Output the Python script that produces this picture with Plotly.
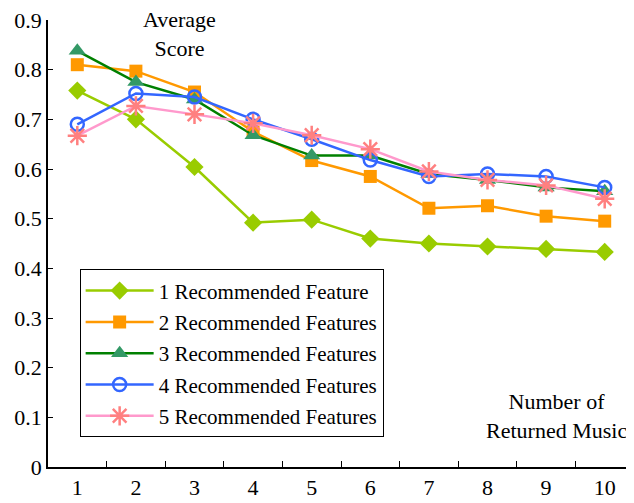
import plotly.graph_objects as go

x_labels = ["1", "2", "3", "4", "5", "6", "7", "8", "9", "10"]
s1 = [0.758, 0.700, 0.604, 0.492, 0.498, 0.460, 0.450, 0.444, 0.439, 0.433]
s2 = [0.810, 0.797, 0.755, 0.675, 0.617, 0.585, 0.521, 0.526, 0.505, 0.495]
s3 = [0.838, 0.775, 0.740, 0.668, 0.627, 0.627, 0.590, 0.578, 0.563, 0.555]
s4 = [0.690, 0.752, 0.745, 0.700, 0.660, 0.618, 0.585, 0.590, 0.585, 0.563]
s5 = [0.667, 0.727, 0.710, 0.692, 0.668, 0.640, 0.595, 0.578, 0.567, 0.540]
names = ["1 Recommended Feature", "2 Recommended Features", "3 Recommended Features",
         "4 Recommended Features", "5 Recommended Features"]
y_ticks = [0, 0.1, 0.2, 0.3, 0.4, 0.5, 0.6, 0.7, 0.8, 0.9]
y_tick_text = ["0", "0.1", "0.2", "0.3", "0.4", "0.5", "0.6", "0.7", "0.8", "0.9"]

FONT = "Liberation Serif"

styles = [
    dict(line=dict(color="#99CC00", width=2.5), marker=dict(symbol="diamond", size=14, color="#99CC00")),
    dict(line=dict(color="#FF9900", width=2.5), marker=dict(symbol="square", size=13, color="#FF9900")),
    dict(line=dict(color="#008000", width=2.5), marker=dict(symbol="triangle-up", size=15, color="#339966")),
    dict(line=dict(color="#3366FF", width=2.5), marker=dict(symbol="circle-open", size=13, color="#3366FF",
                                                            line=dict(width=2.5, color="#3366FF"))),
    dict(line=dict(color="#FF99CC", width=2.5), marker=dict(symbol="asterisk-open", size=16, color="#FF8080",
                                                            line=dict(width=2.5, color="#FF8080"))),
]

fig = go.Figure()
for i, (ys, nm, st) in enumerate(zip([s1, s2, s3, s4, s5], names, styles)):
    fig.add_trace(go.Scatter(x=x_labels, y=ys, name=nm, mode="lines+markers",
                             legendgroup=str(i), **st))

fig.update_layout(
    width=626, height=495,
    margin=dict(l=40, r=0, t=8, b=36),
    paper_bgcolor="white", plot_bgcolor="white",
    font=dict(family=FONT, size=22, color="black"),
    showlegend=True,
    legend=dict(x=0.054, y=0.442, xanchor="left", yanchor="top",
                bordercolor="black", borderwidth=1, bgcolor="white",
                font=dict(family=FONT, size=21), tracegroupgap=1,
                itemwidth=68),
    xaxis=dict(type="category", range=[-0.5, 9.5], showline=True, linecolor="black", linewidth=1.5,
               ticks="inside", ticklen=6, tickcolor="black", tickson="boundaries",
               showgrid=False, zeroline=False, tickfont=dict(family=FONT, size=22)),
    yaxis=dict(range=[0, 0.9], tickvals=y_ticks, ticktext=y_tick_text, showline=True,
               linecolor="black", linewidth=1.5, ticks="inside", ticklen=5, tickcolor="black",
               showgrid=False, zeroline=False, tickfont=dict(family=FONT, size=22),
               ticklabeloverflow="allow"),
    annotations=[
        dict(text="Average<br>Score", xref="paper", yref="paper", x=0.225, y=0.969,
             xanchor="center", yanchor="middle", showarrow=False, font=dict(family=FONT, size=22)),
        dict(text="Number of<br>Returned Music", xref="paper", yref="paper", x=0.868, y=0.115,
             xanchor="center", yanchor="middle", showarrow=False, font=dict(family=FONT, size=22)),
    ],
)

fig.write_html("out.html")
